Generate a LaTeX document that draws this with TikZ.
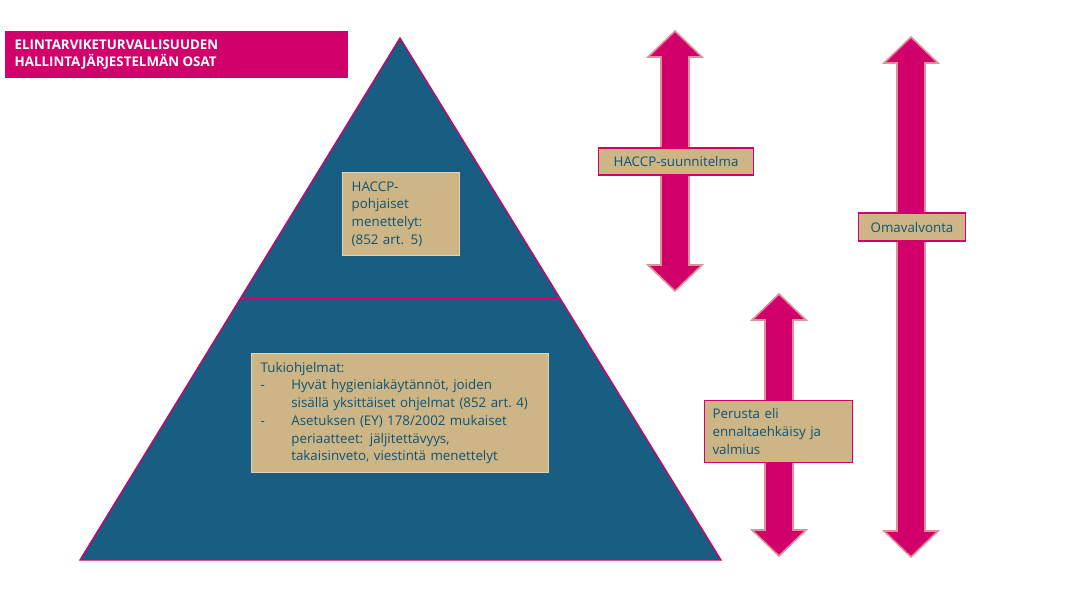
\documentclass[tikz,border=0pt]{standalone}
\usepackage{fontspec}
\setmainfont{Open Sans}
\definecolor{mag}{HTML}{D1006B}
\definecolor{navy}{HTML}{175E82}
\definecolor{tan}{HTML}{CDB585}
\definecolor{txt}{HTML}{0F5374}
\definecolor{pinkb}{HTML}{E0909A}
\newcommand\darrow[3]{%
 \filldraw[mag,draw=pinkb,line width=1.2pt] (#1-27,#2) -- (#1,#2-26) -- (#1+27,#2) -- (#1+14,#2) -- (#1+14,#3) -- (#1+27,#3) -- (#1,#3+26) -- (#1-27,#3) -- (#1-14,#3) -- (#1-14,#2) -- cycle;}
\tikzset{box/.style={fill=tan,draw=mag,line width=0.8pt,text=txt,font=\fontsize{10}{13.3}\selectfont,align=left,inner sep=0pt,anchor=north west}}
\begin{document}
\begin{tikzpicture}[x=0.75pt,y=-0.75pt]
\useasboundingbox (0,0) rectangle (1077,608);
\fill[mag] (5,31) rectangle (348,78);
\node[anchor=west,text=white,font=\fontsize{10}{13}\selectfont\bfseries,align=left] (title) at (10,54.5) {ELINTARVIKETURVALLISUUDEN\\HALLINTAJÄRJESTELMÄN OSAT};
\filldraw[fill=navy,draw=mag,line width=1pt] (400,38) -- (721,560) -- (80,560) -- cycle;
\draw[mag,line width=1pt] (241,298) -- (559,298);
\node[box,draw=tan!60!white,minimum width=87.75pt,minimum height=62.25pt,text width=74pt,inner xsep=6.75pt,inner ysep=4pt] (b1) at (342,172) {HACCP-\\pohjaiset\\menettelyt:\\(852 art. 5)};
\node[box,draw=tan!60!white,minimum width=222.75pt,minimum height=89.25pt,text width=209pt,inner xsep=6.75pt,inner ysep=3pt] (b2) at (251,353) {Tukiohjelmat:\\
\makebox[23pt][l]{-}Hyvät hygieniakäytännöt, joiden\\
\hspace*{23pt}sisällä yksittäiset ohjelmat (852 art.~4)\\
\makebox[23pt][l]{-}Asetuksen (EY) 178/2002 mukaiset\\
\hspace*{23pt}periaatteet: jäljitettävyys,\\
\hspace*{23pt}takaisinveto, viestintä menettelyt};
\darrow{675}{57}{265}
\darrow{779}{320}{530}
\darrow{911}{63}{531}
\node[box,minimum width=116.25pt,minimum height=20.25pt,inner xsep=6pt,anchor=west] (h) at (598,161.5) {HACCP-suunnitelma};
\node[box,minimum width=111pt,minimum height=46.5pt,text width=99pt,inner xsep=6pt,inner ysep=3pt] (p) at (704,400) {Perusta eli\\ennaltaehkäisy ja\\valmius};
\node[box,minimum width=80.25pt,minimum height=21pt,inner xsep=6pt,anchor=west] (o) at (858,227) {Omavalvonta};
\end{tikzpicture}
\end{document}
